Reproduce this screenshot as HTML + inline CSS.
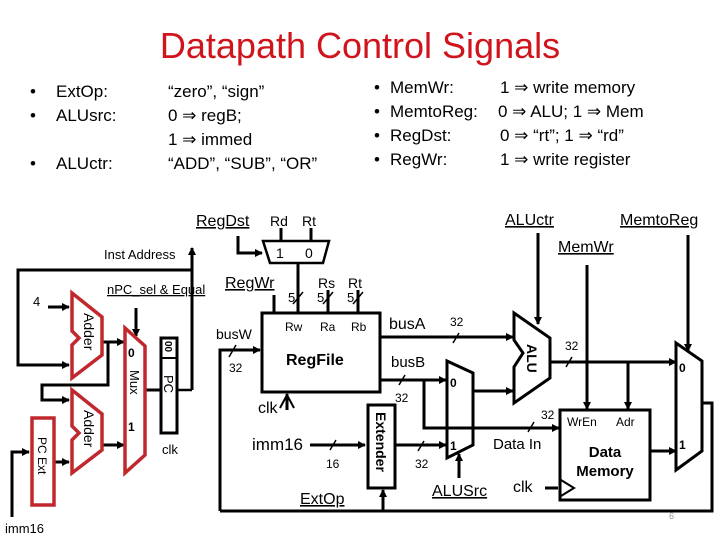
<!DOCTYPE html>
<html><head><meta charset="utf-8"><style>
html,body{margin:0;padding:0;background:#fff;}
svg{display:block;}
text{font-family:"Liberation Sans",sans-serif;}
</style></head><body>
<svg width="720" height="540" viewBox="0 0 720 540" xmlns="http://www.w3.org/2000/svg">
<defs>
<marker id="a" markerWidth="8" markerHeight="8" refX="7" refY="4" orient="auto" markerUnits="userSpaceOnUse"><path d="M0,0 L8,4 L0,8 z" fill="#000"/></marker>
</defs>
<text x="360" y="58" text-anchor="middle" font-size="36" fill="#d0141c">Datapath Control Signals</text>
<g font-size="17" fill="#000">
<text x="30" y="97">•</text><text x="56" y="97">ExtOp:</text>
<text x="30" y="121">•</text><text x="56" y="121">ALUsrc:</text>
<text x="30" y="169">•</text><text x="56" y="169">ALUctr:</text>
<text x="168" y="97">“zero”, “sign”</text>
<text x="168" y="121">0 ⇒ regB;</text>
<text x="168" y="145">1 ⇒ immed</text>
<text x="168" y="169">“ADD”, “SUB”, “OR”</text>
<text x="374" y="93">•</text><text x="390" y="93">MemWr:</text>
<text x="374" y="117">•</text><text x="390" y="117">MemtoReg:</text>
<text x="374" y="141">•</text><text x="390" y="141">RegDst:</text>
<text x="374" y="165">•</text><text x="390" y="165">RegWr:</text>
<text x="500" y="93">1 ⇒ write memory</text>
<text x="498" y="117">0 ⇒ ALU; 1 ⇒ Mem</text>
<text x="500" y="141">0 ⇒ “rt”; 1 ⇒ “rd”</text>
<text x="500" y="165">1 ⇒ write register</text>
</g>
<g stroke="#000" stroke-width="3" fill="none">
<polygon points="263,241 329,241 323,263 270,263" stroke-width="2.5"/>
<polyline points="238,236 238,253 262,253" marker-end="url(#a)"/>
<line x1="281" y1="228" x2="281" y2="241"/>
<line x1="311" y1="228" x2="311" y2="241"/>
<line x1="298" y1="263" x2="298" y2="313"/>
<line x1="274" y1="295" x2="274" y2="313"/>
<line x1="328" y1="290" x2="328" y2="313"/>
<line x1="358" y1="290" x2="358" y2="313"/>
<rect x="262" y="313" width="118" height="79"/>
<polyline points="220,511 220,350 260,350" marker-end="url(#a)"/>
<line x1="287" y1="410" x2="287" y2="394"/>
<line x1="310" y1="445" x2="365" y2="445" marker-end="url(#a)"/>
<rect x="368" y="405" width="27" height="83"/>
<polyline points="220,511 712,511 712,403 702,403"/>
<line x1="383" y1="511" x2="383" y2="490" marker-end="url(#a)"/>
<polyline points="192,390 192,248" marker-end="url(#a)"/>
<polyline points="192,270 18,270 18,365 69,365" marker-end="url(#a)"/>
<line x1="48" y1="307" x2="69" y2="307" marker-end="url(#a)"/>
<line x1="102" y1="342" x2="124" y2="342" marker-end="url(#a)"/>
<polyline points="108,342 108,385 42,385 42,400 69,400" marker-end="url(#a)"/>
<line x1="102" y1="445" x2="124" y2="445" marker-end="url(#a)"/>
<polyline points="12,517 12,452 29,452" marker-end="url(#a)"/>
<line x1="54" y1="462" x2="69" y2="462" marker-end="url(#a)"/>
<line x1="136" y1="308" x2="136" y2="336" marker-end="url(#a)"/>
<line x1="145" y1="390" x2="160" y2="390"/>
<line x1="178" y1="390" x2="192" y2="390" stroke-width="2.5"/>
<rect x="161" y="338" width="16" height="95"/>
<rect x="161" y="338" width="16" height="20" stroke-width="2"/>
<line x1="380" y1="337" x2="513" y2="337" marker-end="url(#a)"/>
<line x1="380" y1="380" x2="446" y2="380" marker-end="url(#a)"/>
<polyline points="424,380 424,428 559,428" marker-end="url(#a)"/>
<line x1="395" y1="445" x2="446" y2="445" marker-end="url(#a)"/>
<polygon points="447,361 473,373 473,445 447,458"/>
<line x1="473" y1="391" x2="513" y2="391" marker-end="url(#a)"/>
<line x1="459" y1="478" x2="459" y2="454" marker-end="url(#a)"/>
<polygon points="514,313 550,338 550,378 514,403 514,367 523,353 514,340"/>
<line x1="538" y1="233" x2="538" y2="324" marker-end="url(#a)"/>
<line x1="550" y1="362" x2="676" y2="362" marker-end="url(#a)"/>
<line x1="628" y1="362" x2="628" y2="409" marker-end="url(#a)"/>
<line x1="587" y1="265" x2="587" y2="409" marker-end="url(#a)"/>
<line x1="688" y1="235" x2="688" y2="351" marker-end="url(#a)"/>
<polygon points="676,343 702,361 702,451 676,470"/>
<rect x="560" y="410" width="90" height="90"/>
<line x1="650" y1="451" x2="676" y2="451" marker-end="url(#a)"/>
<line x1="545" y1="488" x2="558" y2="488"/>
<polyline points="561,480 574,488 561,496" stroke-width="2"/>
<polyline points="280,408 287,395 294,408" stroke-width="2"/>
<g stroke-width="1.5">
<line x1="293" y1="304" x2="303" y2="292"/><line x1="323" y1="304" x2="333" y2="292"/><line x1="353" y1="304" x2="363" y2="292"/>
<line x1="229" y1="357" x2="236" y2="345"/><line x1="330" y1="450" x2="336" y2="440"/>
<line x1="453" y1="343" x2="459" y2="333"/><line x1="399" y1="385" x2="405" y2="375"/>
<line x1="418" y1="451" x2="424" y2="441"/><line x1="528" y1="432" x2="534" y2="422"/>
<line x1="566" y1="367" x2="572" y2="357"/>
</g>
</g>
<g stroke="#c0282e" stroke-width="3.5" fill="none">
<polygon points="72,293 102,317 102,355 72,378 72,345 79,338 72,331"/>
<polygon points="72,390 102,414 102,450 72,473 72,440 79,433 72,426"/>
<polygon points="125,328 145,346 145,455 125,473"/>
<rect x="32" y="418" width="22" height="87"/>
</g>
<g font-size="14" fill="#000">
<text x="196" y="226" font-size="16" text-decoration="underline">RegDst</text>
<text x="270" y="226">Rd</text><text x="302" y="226">Rt</text>
<text x="276" y="258">1</text><text x="305" y="258">0</text>
<text x="104" y="259" font-size="13">Inst Address</text>
<text x="107" y="294" font-size="13" text-decoration="underline">nPC_sel &amp; Equal</text>
<text x="33" y="306" font-size="13">4</text>
<text x="225" y="288" font-size="16" text-decoration="underline">RegWr</text>
<text x="318" y="288">Rs</text><text x="348" y="288">Rt</text>
<text x="288" y="302" font-size="13">5</text><text x="317" y="302" font-size="13">5</text><text x="347" y="302" font-size="13">5</text>
<text x="285" y="331" font-size="12">Rw</text><text x="320" y="331" font-size="12">Ra</text><text x="351" y="331" font-size="12">Rb</text>
<text x="286" y="365" font-size="16" font-weight="bold">RegFile</text>
<text x="216" y="339">busW</text>
<text x="229" y="372" font-size="12">32</text>
<text x="258" y="413" font-size="16">clk</text>
<text x="252" y="450" font-size="17">imm16</text>
<text x="326" y="468" font-size="12">16</text>
<text x="300" y="504" font-size="16" text-decoration="underline">ExtOp</text>
<text x="128" y="357" font-size="12" font-weight="bold">0</text>
<text x="128" y="431" font-size="12" font-weight="bold">1</text>
<text x="162" y="454" font-size="13">clk</text>
<text x="5" y="533" font-size="13">imm16</text>
<text x="389" y="329" font-size="16">busA</text>
<text x="450" y="326" font-size="12">32</text>
<text x="391" y="367" font-size="15">busB</text>
<text x="395" y="402" font-size="12">32</text>
<text x="450" y="387" font-size="12" font-weight="bold">0</text>
<text x="450" y="450" font-size="12" font-weight="bold">1</text>
<text x="415" y="468" font-size="12">32</text>
<text x="432" y="496" font-size="16" text-decoration="underline">ALUSrc</text>
<text x="505" y="225" font-size="16" text-decoration="underline">ALUctr</text>
<text x="620" y="225" font-size="16" text-decoration="underline">MemtoReg</text>
<text x="558" y="252" font-size="16" text-decoration="underline">MemWr</text>
<text x="565" y="350" font-size="12">32</text>
<text x="541" y="419" font-size="12">32</text>
<text x="493" y="449" font-size="15">Data In</text>
<text x="567" y="426" font-size="12">WrEn</text><text x="616" y="426" font-size="12">Adr</text>
<text x="605" y="457" font-size="15" font-weight="bold" text-anchor="middle">Data</text>
<text x="605" y="476" font-size="15" font-weight="bold" text-anchor="middle">Memory</text>
<text x="513" y="492" font-size="16">clk</text>
<text x="679" y="372" font-size="12" font-weight="bold">0</text>
<text x="679" y="449" font-size="12" font-weight="bold">1</text>
<text x="669" y="519" font-size="9" fill="#999">6</text>
<text transform="translate(84,313) rotate(90)" font-size="14">Adder</text>
<text transform="translate(84,410) rotate(90)" font-size="14">Adder</text>
<text transform="translate(130,370) rotate(90)" font-size="13">Mux</text>
<text transform="translate(164,375) rotate(90)" font-size="13">PC</text>
<text transform="translate(165,341) rotate(90)" font-size="10" font-weight="bold">00</text>
<text transform="translate(38,437) rotate(90)" font-size="12">PC Ext</text>
<text transform="translate(376,412) rotate(90)" font-size="14" font-weight="bold">Extender</text>
<text transform="translate(527,344) rotate(90)" font-size="14" font-weight="bold">ALU</text>
</g>
</svg>
</body></html>
